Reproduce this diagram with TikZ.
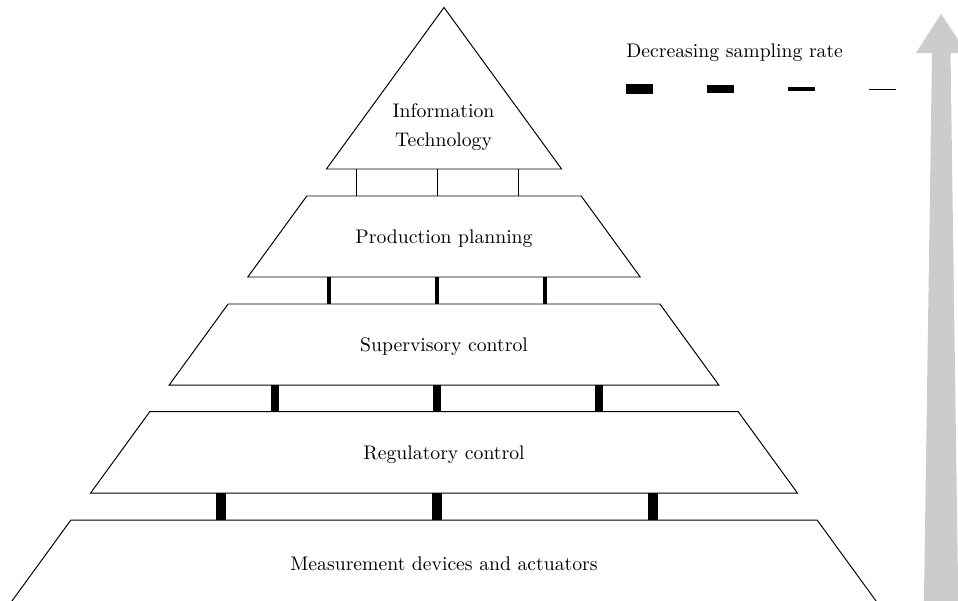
\documentclass[tikz,border=0pt]{standalone}
\begin{document}
\begin{tikzpicture}[x=0.508pt,y=-0.508pt,
  tier/.style={draw=black,line width=0.5pt,line join=miter},
  lbl/.style={anchor=base,inner sep=0pt},
  rateA/.style={line width=4.8pt},
  rateB/.style={line width=3.6pt},
  rateC/.style={line width=2.3pt},
  rateD/.style={line width=0.5pt},
  rise/.style={fill=black!20,draw=none}]
\useasboundingbox (0,0) rectangle (958,600);
\clip (0,0) rectangle (958,600);

% upward arrow on the right
\fill[rise] (941,14) -- (967,53) -- (950.5,53) -- (958.3,605) -- (923.9,605)
  -- (932,53) -- (916,53) -- cycle;

% pyramid tiers
\draw[tier] (444,7.5) -- (561.6,169) -- (326.4,169) -- cycle;
\draw[tier] (306.8,196) -- (581.2,196) -- (640.2,277) -- (247.8,277) -- cycle;
\draw[tier] (228.1,304) -- (659.9,304) -- (718.8,385) -- (169.2,385) -- cycle;
\draw[tier] (149.9,411.5) -- (738.1,411.5) -- (797.4,493) -- (90.6,493) -- cycle;
\draw[tier] (70.9,520) -- (817.1,520) -- (877.5,603) -- (10.5,603) -- cycle;

% tier labels
\node[align=center,inner sep=0pt] (it) at (443.5,127) {Information\\[3pt]Technology};
\node[lbl] (pp) at (444,243) {Production planning};
\node[lbl] (sc) at (444,351) {Supervisory control};
\node[lbl] (rc) at (444,459) {Regulatory control};
\node[lbl] (md) at (444,570.5) {Measurement devices and actuators};

% links between tiers
\coordinate (g1t) at (437,169);   \coordinate (g1b) at (437,196);
\coordinate (g2t) at (437,277);   \coordinate (g2b) at (437,304);
\coordinate (g3t) at (437,385);   \coordinate (g3b) at (437,411.5);
\coordinate (g4t) at (437,493);   \coordinate (g4b) at (437,520);
\foreach \dx in {-81,0,81}
  \draw[rateD] ([xshift=\dx*0.508pt]g1t) -- ([xshift=\dx*0.508pt]g1b);
\foreach \dx in {-108,0,108}
  \draw[rateC] ([xshift=\dx*0.508pt]g2t) -- ([xshift=\dx*0.508pt]g2b);
\foreach \dx in {-162,0,162}
  \draw[rateB] ([xshift=\dx*0.508pt]g3t) -- ([xshift=\dx*0.508pt]g3b);
\foreach \dx in {-216,0,216}
  \draw[rateA] ([xshift=\dx*0.508pt]g4t) -- ([xshift=\dx*0.508pt]g4b);

% legend
\node[anchor=base west,inner sep=0pt] (leg) at (626,57.5) {Decreasing sampling rate};
\coordinate (k1a) at (626,89);   \coordinate (k1b) at (653,89);
\coordinate (k2a) at (707,89);   \coordinate (k2b) at (734,89);
\coordinate (k3a) at (788,89);   \coordinate (k3b) at (815,89);
\coordinate (k4a) at (868.5,89); \coordinate (k4b) at (895.5,89);
\draw[rateA] (k1a) -- (k1b);
\draw[rateB] (k2a) -- (k2b);
\draw[rateC] (k3a) -- (k3b);
\draw[rateD] (k4a) -- (k4b);
\end{tikzpicture}
\end{document}
